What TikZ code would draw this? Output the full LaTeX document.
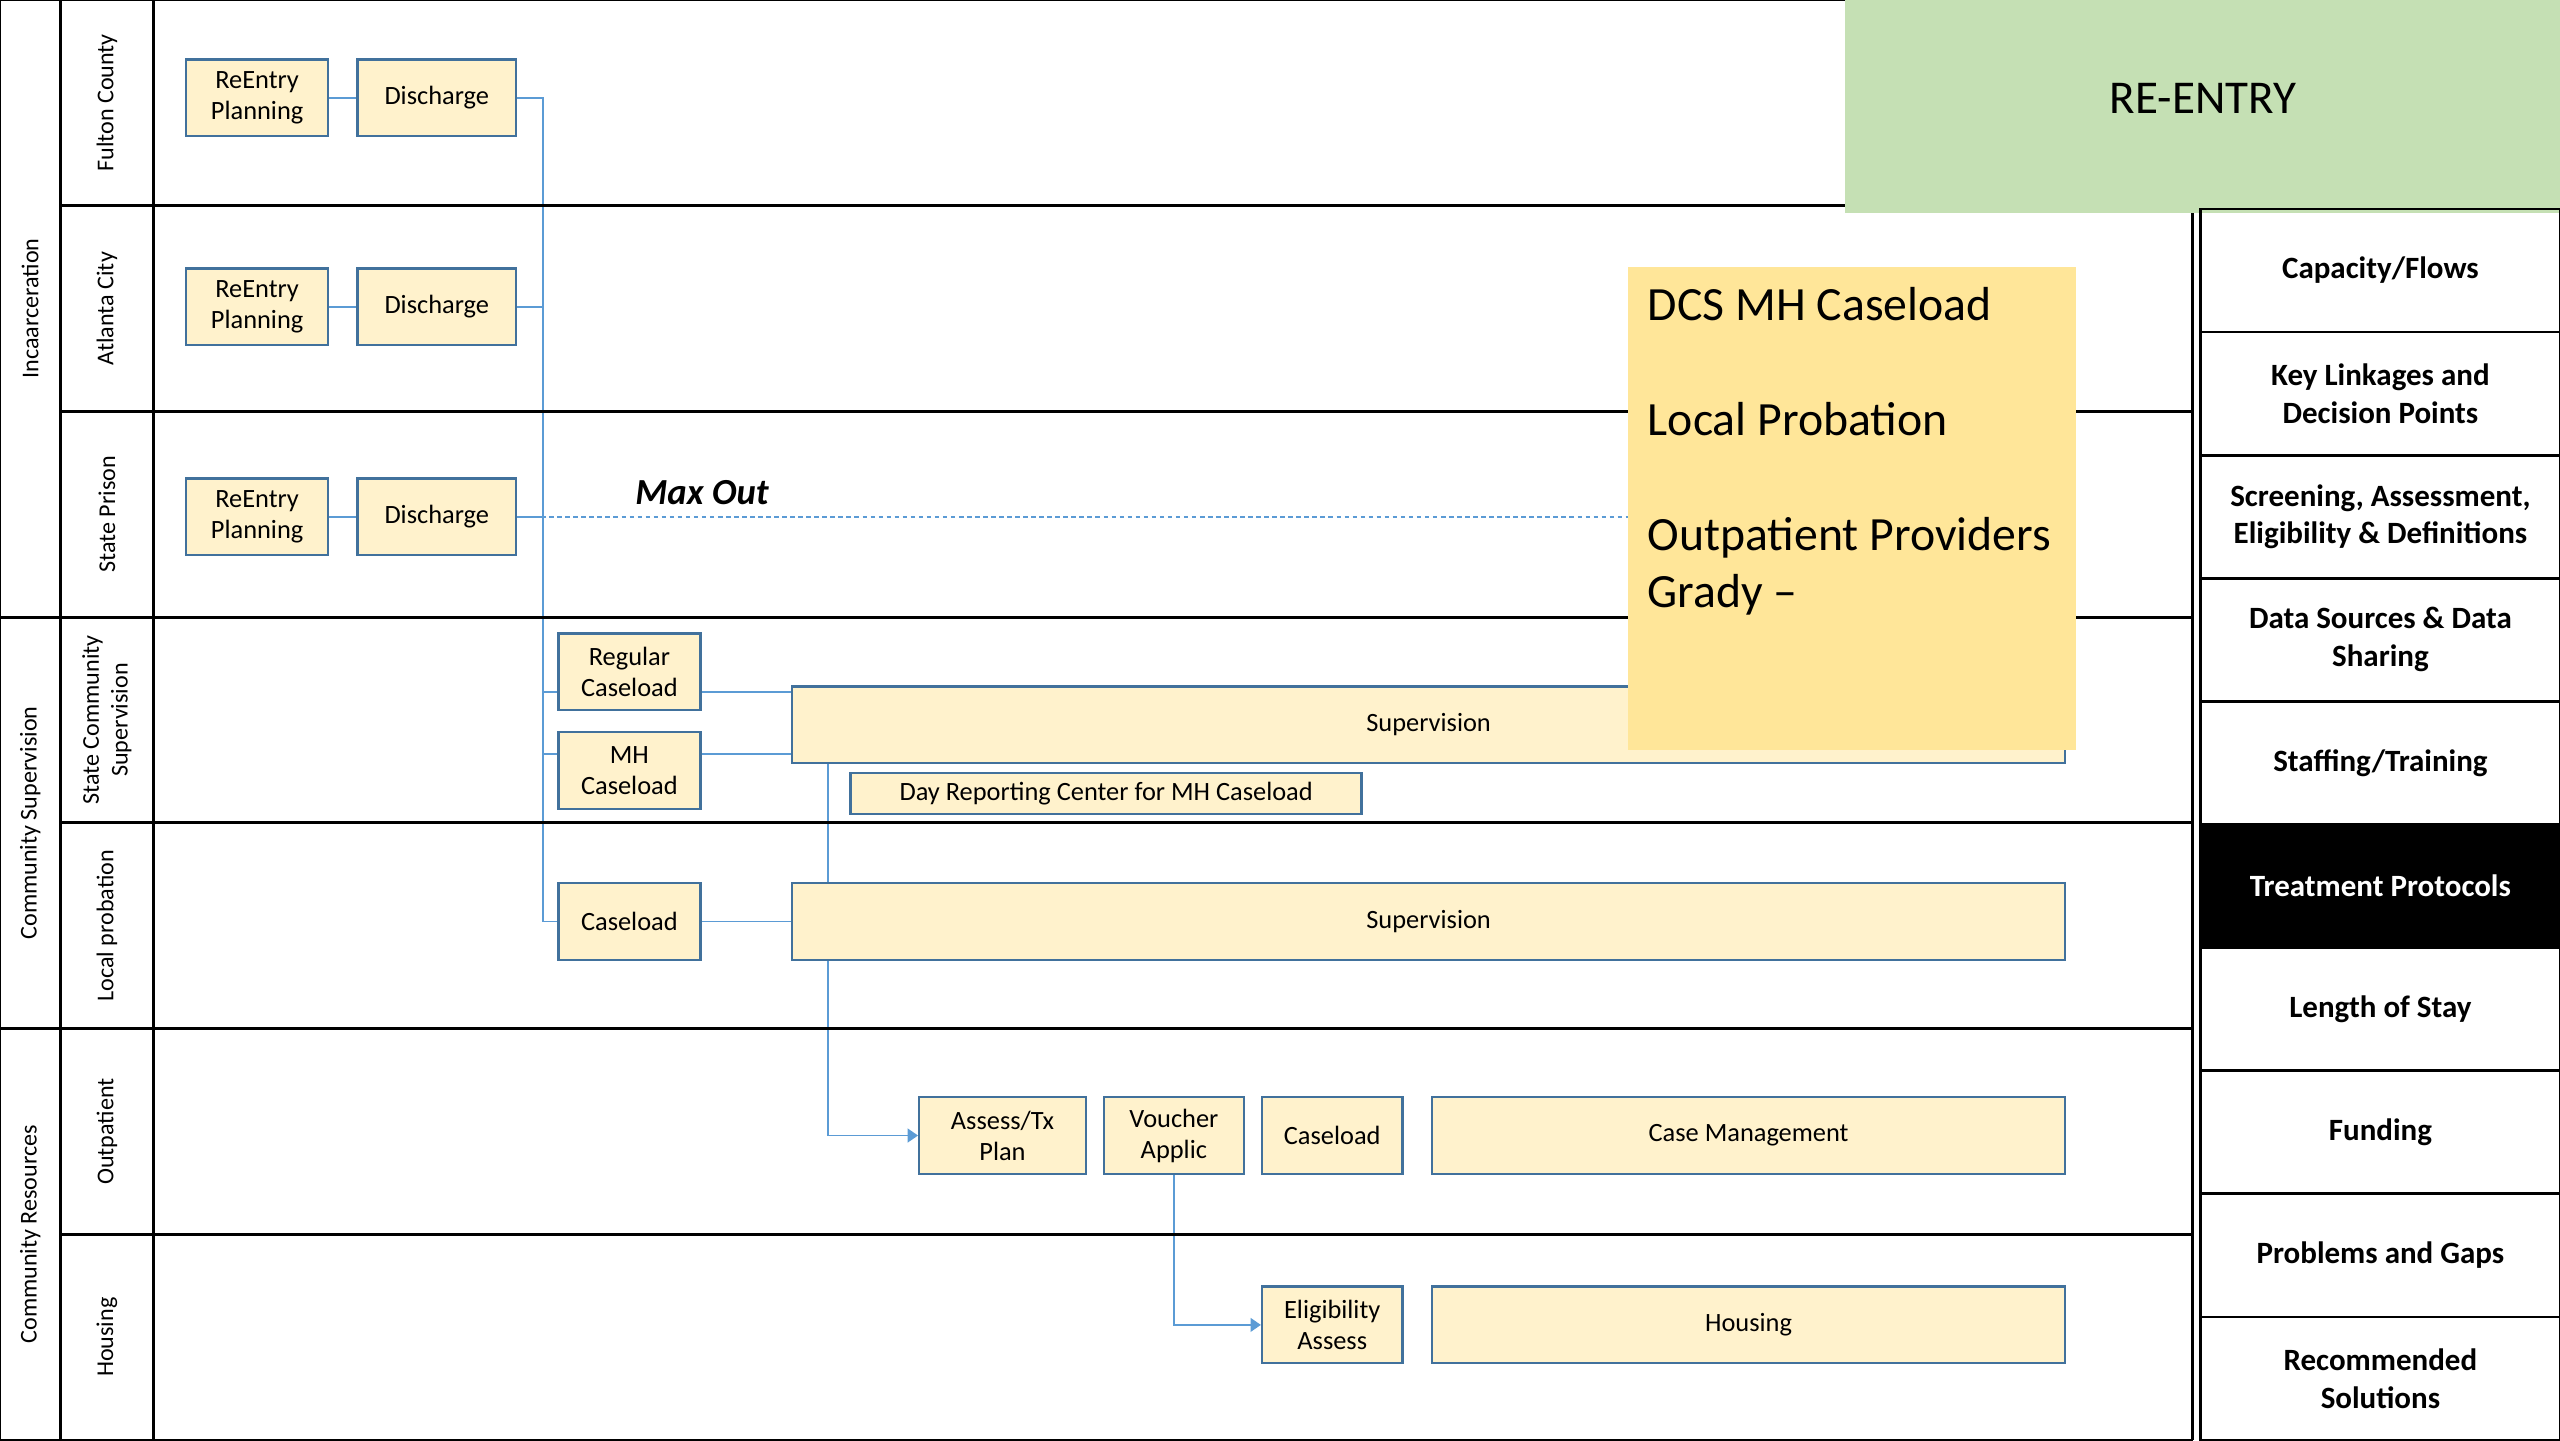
\documentclass[tikz,border=0pt]{standalone}
\usepackage{fontspec}
\setmainfont{Carlito}
\usepackage{tikz}
\usetikzlibrary{arrows.meta}
\usetikzlibrary{backgrounds,positioning}

\definecolor{boxfill}{HTML}{FFF2CC}
\definecolor{boxline}{HTML}{41719C}
\definecolor{linkblue}{HTML}{5B9BD5}
\definecolor{notefill}{HTML}{FFE699}
\definecolor{reentryfill}{HTML}{C5E0B4}

\begin{document}
\begin{tikzpicture}[x=0.25mm,y=-0.25mm,
	gridline/.style={line width=1.2pt,black},
	lanelbl/.style={rotate=90,align=center,font=\fontsize{10.5}{12.5}\selectfont},
	stepbox/.style={draw=boxline,fill=boxfill,line width=1pt,inner sep=0pt,
		minimum width=#1*0.25mm,minimum height=11.75mm,align=center,
		font=\fontsize{11.5}{13.5}\selectfont},
	link/.style={draw=linkblue,line width=0.7pt},
	tip/.style={-{Triangle[length=4.5pt,width=6pt]}},
	cell/.style={draw,line width=1.2pt,minimum width=55mm,minimum height=18.85mm,
		align=center,inner sep=0pt,font=\fontsize{13.5}{16.5}\selectfont\bfseries}]
			\useasboundingbox (0,0) rectangle (1568,882);

			% lanes
			\foreach \y in {0,378,630,882}
				\draw[gridline] (0,\y) -- (1343,\y);
			\foreach \y in {126,252,504,756}
				\draw[gridline] (37,\y) -- (1343,\y);
			\foreach \x in {0,37,94,1343}
				\draw[gridline] (\x,0) -- (\x,882);

			\begin{scope}[every node/.style={lanelbl}]
				\node (incar) at (18.5,189) {Incaarceration};
				\node (commsup) at (18.5,504) {Community Supervision};
				\node (commres) at (18.5,756) {Community Resources};
				\node (fulton) at (65.5,63) {Fulton County};
				\node (atlanta) at (65.5,189) {Atlanta City};
				\node (prison) at (65.5,315) {State Prison};
				\node (statesup) at (65.5,441) {State Community\\Supervision};
				\node (localprob) at (65.5,567) {Local probation};
				\node (outpat) at (65.5,693) {Outpatient};
				\node (housing) at (65.5,819) {Housing};
			\end{scope}

			% boxes
			\node[stepbox=87] (re1) at (157.5,60) {ReEntry\\Planning};
			\node[stepbox=97] (dis1) at (267.5,60) {Discharge};
			\node[stepbox=87] (re2) at (157.5,188) {ReEntry\\Planning};
			\node[stepbox=97] (dis2) at (267.5,188) {Discharge};
			\node[stepbox=87] (re3) at (157.5,316.5) {ReEntry\\Planning};
			\node[stepbox=97] (dis3) at (267.5,316.5) {Discharge};
			\node[font=\fontsize{16}{19}\selectfont\bfseries\itshape] (maxout) at (430,302) {Max Out};

			\node[stepbox=87] (reg) at (385.5,411.5) {Regular\\Caseload};
			\node[stepbox=87] (mh) at (385.5,472) {MH\\Caseload};
			\node[stepbox=780] (sup1) at (875,444) {Supervision};
			\node[stepbox=313,minimum height=6.25mm] (dayrep) at (677.5,486) {Day Reporting Center for MH Caseload};
			\node[stepbox=87] (cl) at (385.5,564.5) {Caseload};
			\node[stepbox=780] (sup2) at (875,564.5) {Supervision};

			\node[stepbox=102] (tx) at (614,695.5) {Assess/Tx\\Plan};
			\node[stepbox=86] (vch) at (719,695.5) {Voucher\\Applic};
			\node[stepbox=86] (ocl) at (816,695.5) {Caseload};
			\node[stepbox=388] (cm) at (1071,695.5) {Case Management};
			\node[stepbox=86] (elig) at (816,811.5) {Eligibility\\Assess};
			\node[stepbox=388] (hs) at (1071,811.5) {Housing};

			% sticky note
			\node[fill=notefill,anchor=north west,inner sep=0pt,minimum width=68.5mm,minimum height=74mm] (note) at (997,163) {};
			\node[anchor=north west,inner sep=0pt,align=left,font=\fontsize{20.8}{25}\selectfont] (notetxt) at (1009,176)
				{DCS MH Caseload\\[25pt]Local Probation\\[25pt]Outpatient Providers\\Grady --};

			\node[fill=reentryfill,anchor=north west,inner sep=0pt,minimum width=109.5mm,minimum height=32.5mm,
				text depth=7pt,font=\fontsize{20.5}{24}\selectfont] (reentry) at (1130,0) {RE-ENTRY};

			% topics
			\begin{scope}[every node/.style={cell}]
				\node (capflow) at (1458,165.7) {Capacity/Flows};
				\node (linkages) at (1458,241.1) {Key Linkages and\\Decision Points};
				\node (screening) at (1458,316.5) {Screening, Assessment,\\Eligibility \& Definitions};
				\node (datasrc) at (1458,391.9) {Data Sources \& Data\\Sharing};
				\node (staffing) at (1458,467.3) {Staffing/Training};
				\node[fill=black,text=white] (protocols) at (1458,542.7) {Treatment Protocols};
				\node (stay) at (1458,618.1) {Length of Stay};
				\node (funding) at (1458,693.5) {Funding};
				\node (gaps) at (1458,768.9) {Problems and Gaps};
				\node (solutions) at (1458,844.3) {Recommended\\Solutions};
			\end{scope}

			\begin{scope}[on background layer]
				\path[link] (re1.east) -- (dis1.west);
				\path[link] (re2.east) -- (dis2.west);
				\path[link] (re3.east) -- (dis3.west);
				\path[link] (dis1.east) -- ++(16,0) coordinate (spine) |- (sup2.west);
				\path[link] (dis2.east) -- (dis2.east -| spine);
				\path[link] (dis3.east) -- (dis3.east -| spine);
				\path[link] (spine |- 0,424) -- (sup1.west |- 0,424);
				\path[link] (spine |- 0,462) -- (sup1.west |- 0,462);
				\path[link,dash pattern=on 2pt off 1.5pt] (dis3.east) -- (dis3.east -| note.west);
				\path[link,tip] (sup1.south -| 507,0) |- (tx.west);
				\path[link,tip] (vch.south) |- (elig.west);
			\end{scope}
		\end{tikzpicture}
\end{document}
